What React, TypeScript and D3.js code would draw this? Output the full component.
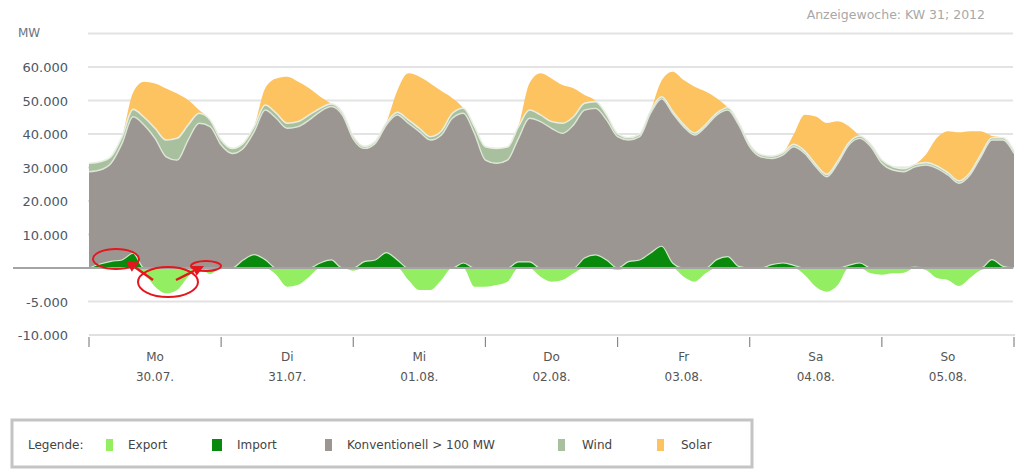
import React, { useEffect, useRef } from 'react'
import * as d3 from 'd3'

// 2-hour steps, Mo 30.07. 00:00 to Mo 06.08. 00:00 (85 points)
const hours = d3.range(0, 169, 2)

const importMW = [
  0, 1200, 2000, 2400, 4400, 0, 0, 0, 0, 0, 0, 0,
  0, 0, 2400, 4000, 2500, 0, 0, 0, 0, 1500, 2400, 0,
  0, 1900, 2400, 4600, 2400, 0, 0, 0, 0, 0, 1500, 0,
  0, 0, 0, 1800, 1800, 0, 0, 0, 0, 3000, 3900, 2400,
  0, 1900, 2400, 4500, 6500, 1500, 0, 0, 0, 2500, 3400, 500,
  0, 0, 1000, 1500, 800, 0, 0, 0, 0, 800, 1500, 0,
  0, 0, 0, 300, 0, 0, 0, 0, 0, 0, 2500, 500, 0,
]

const conventional = [
  28750, 28050, 29250, 34800, 40750, 42700, 38700, 33200, 32200, 38200, 43200, 42200,
  36700, 34200, 33300, 36700, 44650, 44700, 41700, 42200, 44200, 45200, 45800, 45700,
  38500, 33800, 34800, 38100, 43250, 43200, 40700, 38200, 39700, 44700, 44700, 40200,
  32200, 31250, 32200, 36900, 42900, 43700, 41700, 40200, 42700, 44150, 43750, 41800,
  39200, 36300, 36800, 41700, 44000, 44700, 42200, 39700, 42200, 43150, 43750, 42200,
  36200, 33200, 31700, 32200, 35400, 34200, 30200, 27250, 31250, 35900, 37200, 36200,
  31250, 29250, 28750, 29900, 30750, 29750, 27750, 25300, 27750, 33200, 35700, 37700, 34200,
]

const wind = [
  2500, 2450, 2000, 2000, 2200, 2300, 3000, 5000, 6500, 4500, 3000, 2000,
  1500, 1500, 1500, 1500, 1500, 1500, 1500, 1500, 1500, 1000, 800, 800,
  800, 600, 600, 600, 800, 1000, 1000, 1000, 1200, 1500, 1500, 2000,
  4000, 4450, 3900, 3500, 2450, 2000, 2000, 3000, 2450, 2000, 2000, 1500,
  900, 700, 700, 700, 600, 600, 600, 600, 600, 600, 700, 700,
  700, 700, 700, 700, 700, 700, 700, 700, 700, 700, 700, 700,
  1000, 1000, 900, 700, 700, 700, 700, 700, 700, 700, 700, 700, 700,
]

const solar = [
  0, 0, 0, 0, 5000, 10600, 13400, 15400, 13400, 7450, 950, 0,
  0, 0, 0, 0, 5000, 10400, 13900, 11900, 7950, 3450, 0, 0,
  0, 0, 0, 0, 6500, 13900, 15400, 15900, 11900, 4500, 0, 0,
  0, 0, 0, 0, 8000, 12450, 12900, 11400, 8500, 2500, 300, 0,
  0, 0, 0, 0, 4850, 11800, 13300, 13800, 9850, 4400, 0, 0,
  0, 0, 0, 0, 3000, 10850, 14350, 15350, 11850, 4900, 0, 0,
  0, 0, 0, 0, 2400, 8400, 12400, 14500, 12400, 6900, 500, 0, 0,
]

const exportMW = [
  0, 0, 0, 0, 0, -800, -2790, -3780, -3280, -1290, 0, -900,
  0, 0, 0, 0, 0, -1000, -2790, -2500, -1290, 0, 0, 0,
  -400, 0, 0, 0, 0, -1790, -3280, -3280, -1790, 0, 0, -2790,
  -2790, -2540, -2040, 0, 0, -1290, -2040, -1790, -800, 0, 0, 0,
  -300, 0, 0, 0, 0, 0, -1290, -2040, -800, 0, 0, 0,
  0, 0, 0, 0, 0, -1040, -2790, -3530, -2540, 0, 0, -800,
  -1000, -800, -700, 0, -300, -1500, -1800, -2700, -1500, -300, 0, 0, 0,
]

const days = ['Mo', 'Di', 'Mi', 'Do', 'Fr', 'Sa', 'So']
const dates = ['30.07.', '31.07.', '01.08.', '02.08.', '03.08.', '04.08.', '05.08.']
const yTicks = [60000, 50000, 40000, 30000, 20000, 10000, -5000, -10000]
const yTickLabels = ['60.000', '50.000', '40.000', '30.000', '20.000', '10.000', '-5.000', '-10.000']

const legendItems = [
  { label: 'Export', color: '#93ee62', x: 106, tx: 128 },
  { label: 'Import', color: '#0a8a0c', x: 212, tx: 237 },
  { label: 'Konventionell > 100 MW', color: '#9c9693', x: 325, tx: 347 },
  { label: 'Wind', color: '#a9c09f', x: 558, tx: 582 },
  { label: 'Solar', color: '#fcc360', x: 657, tx: 681 },
]

const font = '"DejaVu Sans", Verdana, sans-serif'

const App: React.FC = () => {
  const ref = useRef<SVGSVGElement>(null)

  useEffect(() => {
    if (!ref.current) return
    const svg = d3.select(ref.current)
    svg.selectAll('*').remove()

    const x = d3.scaleLinear().domain([0, 168]).range([89, 1014])
    const y = d3.scaleLinear().domain([-10000, 0, 70000]).range([335, 268, 33.5])

    const rows = hours.map((h, i) => {
      const imp = importMW[i]
      const grey = imp + conventional[i]
      const wTop = grey + wind[i]
      return { h, imp, grey, wTop, sTop: wTop + solar[i], exp: exportMW[i] }
    })

    // grid
    const grid = svg.append('g')
    ;[70000, 60000, 50000, 40000, 30000, 20000, 10000, -5000].forEach(v => {
      grid
        .append('line')
        .attr('x1', 88)
        .attr('x2', 1013)
        .attr('y1', y(v))
        .attr('y2', y(v))
        .attr('stroke', '#e3e3e3')
        .attr('stroke-width', 2)
    })

    const curve = d3.curveMonotoneX
    type R = (typeof rows)[number]
    const band = (lo: (d: R) => number, hi: (d: R) => number, color: string) => {
      svg
        .append('path')
        .attr(
          'd',
          d3
            .area<R>()
            .x(d => x(d.h))
            .y0(d => y(lo(d)))
            .y1(d => y(hi(d)))
            .curve(curve)(rows)
        )
        .attr('fill', color)
    }
    const edge = (v: (d: R) => number, color: string, w: number) => {
      svg
        .append('path')
        .attr(
          'd',
          d3
            .line<R>()
            .x(d => x(d.h))
            .y(d => y(v(d)))
            .curve(curve)(rows)
        )
        .attr('fill', 'none')
        .attr('stroke', color)
        .attr('stroke-width', w)
    }

    band(d => d.wTop, d => d.sTop, '#fcc360')
    band(d => d.grey, d => d.wTop, '#a9c09f')
    band(d => d.imp, d => d.grey, '#9c9693')
    band(() => 0, d => d.imp, '#0a8a0c')
    band(() => 0, d => d.exp, '#93ee62')
    edge(d => d.wTop, '#e8eee2', 1.6)
    edge(d => d.grey, '#dde6d6', 1.4)
    edge(d => d.imp, '#cfe8c8', 1.2)

    // zero line
    svg
      .append('line')
      .attr('x1', 13)
      .attr('x2', 1013)
      .attr('y1', y(0))
      .attr('y2', y(0))
      .attr('stroke', '#a4a4a4')
      .attr('stroke-width', 2)

    // x axis
    svg
      .append('line')
      .attr('x1', 89)
      .attr('x2', 1015)
      .attr('y1', y(-10000))
      .attr('y2', y(-10000))
      .attr('stroke', '#e0e0e0')
      .attr('stroke-width', 2)

    d3.range(0, 8).forEach(k => {
      svg
        .append('line')
        .attr('x1', x(k * 24))
        .attr('x2', x(k * 24))
        .attr('y1', 337)
        .attr('y2', 347)
        .attr('stroke', '#888')
        .attr('stroke-width', 1.2)
    })

    days.forEach((d, k) => {
      const cx = x(k * 24 + 12)
      svg
        .append('text')
        .attr('x', cx)
        .attr('y', 361)
        .attr('text-anchor', 'middle')
        .attr('font-family', font)
        .attr('font-size', 12)
        .attr('fill', '#555')
        .text(d)
      svg
        .append('text')
        .attr('x', cx)
        .attr('y', 381)
        .attr('text-anchor', 'middle')
        .attr('font-family', font)
        .attr('font-size', 12)
        .attr('fill', '#555')
        .text(dates[k])
    })

    // y labels
    yTicks.forEach((v, i) => {
      svg
        .append('text')
        .attr('x', 68)
        .attr('y', y(v) + 5)
        .attr('text-anchor', 'end')
        .attr('font-family', font)
        .attr('font-size', 13)
        .attr('fill', '#4a5868')
        .text(yTickLabels[i])
    })
    svg
      .append('text')
      .attr('x', 18)
      .attr('y', 37)
      .attr('font-family', font)
      .attr('font-size', 12)
      .attr('fill', '#6a7480')
      .text('MW')

    svg
      .append('text')
      .attr('x', 985)
      .attr('y', 19)
      .attr('text-anchor', 'end')
      .attr('font-family', font)
      .attr('font-size', 12.5)
      .attr('fill', '#a8a8a8')
      .text('Anzeigewoche: KW 31; 2012')

    // red annotations
    const red = '#e5161d'
    const marks = svg.append('g').attr('fill', 'none').attr('stroke', red).attr('stroke-width', 2)
    marks.append('ellipse').attr('cx', 116).attr('cy', 259).attr('rx', 23).attr('ry', 10)
    marks.append('ellipse').attr('cx', 168).attr('cy', 282).attr('rx', 30).attr('ry', 15)
    marks.append('ellipse').attr('cx', 206).attr('cy', 266).attr('rx', 15).attr('ry', 5)
    const arrow = (x1: number, y1: number, x2: number, y2: number) => {
      const ang = Math.atan2(y2 - y1, x2 - x1)
      const len = 11
      const bx = x2 - Math.cos(ang) * len
      const by = y2 - Math.sin(ang) * len
      svg
        .append('line')
        .attr('x1', x1)
        .attr('y1', y1)
        .attr('x2', bx)
        .attr('y2', by)
        .attr('stroke', red)
        .attr('stroke-width', 2.5)
      const px = Math.sin(ang) * 5.5
      const py = -Math.cos(ang) * 5.5
      svg
        .append('path')
        .attr('d', `M${x2},${y2}L${bx + px},${by + py}L${bx - px},${by - py}Z`)
        .attr('fill', red)
    }
    arrow(153, 280, 126, 261)
    arrow(176, 280, 204, 266)

    // legend
    const lg = svg.append('g')
    lg.append('rect')
      .attr('x', 12)
      .attr('y', 420)
      .attr('width', 740)
      .attr('height', 47)
      .attr('fill', '#fff')
      .attr('stroke', '#c4c4c4')
      .attr('stroke-width', 3)
    lg.append('text')
      .attr('x', 28)
      .attr('y', 449)
      .attr('font-family', font)
      .attr('font-size', 12)
      .attr('fill', '#444')
      .text('Legende:')
    legendItems.forEach(it => {
      lg.append('rect')
        .attr('x', it.x)
        .attr('y', 439)
        .attr('width', it.label === 'Import' ? 10 : 7)
        .attr('height', 12)
        .attr('fill', it.color)
      lg.append('text')
        .attr('x', it.tx)
        .attr('y', 449)
        .attr('font-family', font)
        .attr('font-size', 12)
        .attr('fill', '#444')
        .text(it.label)
    })
  }, [])

  return (
    <svg
      ref={ref}
      width={1021}
      height={469}
      style={{ position: 'absolute', left: 0, top: 0, background: '#fff' }}
    />
  )
}

export default App
